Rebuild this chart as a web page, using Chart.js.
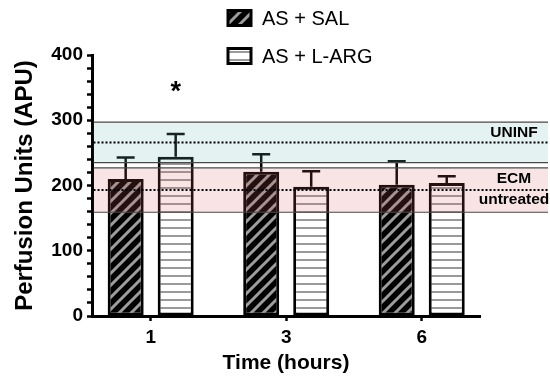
<!DOCTYPE html>
<html>
<head>
<meta charset="utf-8">
<script src="https://cdn.jsdelivr.net/npm/chart.js@4/dist/chart.umd.min.js"></script>
<style>
  body { margin: 0; background: #fff; }
  #wrap { width: 550px; height: 378px; }
</style>
</head>
<body>
<div id="wrap"><canvas id="perfusionChart" width="550" height="378"></canvas></div>
<script>
// values
const timeLabels = ['1', '3', '6'];
const timePos = [1, 2, 3];
const seriesNames = ['AS + SAL', 'AS + L-ARG'];
const salMean = [210, 221, 201];
const salErr = [33, 27, 36];
const largMean = [244, 198, 204];
const largErr = [35, 24, 10];
const bandLabels = [['UNINF'], ['ECM', 'untreated']];
const bandMean = [266, 193];
const bandSd = [31, 34];
const starMarks = [{ dataset: 1, index: 0, value: 351 }];

const FONT = '"Liberation Sans", Arial, Helvetica, sans-serif';
Chart.defaults.font.family = FONT;
Chart.defaults.color = '#000';

const canvas = document.getElementById('perfusionChart');
const ctx = canvas.getContext('2d');

function diagPattern() {
    const s = 12;
    const c = document.createElement('canvas');
    c.width = s; c.height = s;
    const g = c.getContext('2d');
    g.fillStyle = '#000';
    g.fillRect(0, 0, s, s);
    g.strokeStyle = '#9d9d9d';
    g.lineWidth = 3;
    g.beginPath();
    g.moveTo(-2, 2); g.lineTo(2, -2);
    g.moveTo(0, s); g.lineTo(s, 0);
    g.moveTo(s - 2, s + 2); g.lineTo(s + 2, s - 2);
    g.stroke();
    return ctx.createPattern(c, 'repeat');
}

function hLinePattern() {
    const c = document.createElement('canvas');
    c.width = 8; c.height = 8;
    const g = c.getContext('2d');
    g.fillStyle = '#fff';
    g.fillRect(0, 0, 8, 8);
    g.fillStyle = '#9a9a9a';
    g.fillRect(0, 3, 8, 2);
    return ctx.createPattern(c, 'repeat');
}

const salFill = diagPattern();
const largFill = hLinePattern();

const means = [salMean, largMean];
const errs = [salErr, largErr];

// error bars, reference bands, labels and legend
const overlayPlugin = {
    id: 'overlay',
    afterDatasetsDraw(chart) {
        const c = chart.ctx;
        const y = chart.scales.y;
        const area = chart.chartArea;

        // upper error bars
        c.save();
        c.strokeStyle = '#000';
        c.lineWidth = 2.5;
        chart.data.datasets.forEach((ds, i) => {
            chart.getDatasetMeta(i).data.forEach((bar, j) => {
                const top = y.getPixelForValue(means[i][j] + errs[i][j]);
                c.beginPath();
                c.moveTo(bar.x, bar.y);
                c.lineTo(bar.x, top);
                c.moveTo(bar.x - 9, top);
                c.lineTo(bar.x + 9, top);
                c.stroke();
            });
        });
        c.restore();

        // reference bands (mean +/- sd) drawn over the bars
        const bandColors = ['rgba(110, 185, 185, 0.19)', 'rgba(215, 95, 95, 0.17)'];
        const left = area.left + 1.5;
        const right = chart.width - 2;
        bandMean.forEach((m, k) => {
            const yTop = y.getPixelForValue(m + bandSd[k]);
            const yBot = y.getPixelForValue(m - bandSd[k]);
            const yMid = y.getPixelForValue(m);
            c.save();
            c.fillStyle = bandColors[k];
            c.fillRect(left, yTop, right - left, yBot - yTop);
            c.strokeStyle = '#4a4a4a';
            c.lineWidth = 1.2;
            c.beginPath();
            c.moveTo(left, yTop); c.lineTo(right, yTop);
            c.moveTo(left, yBot); c.lineTo(right, yBot);
            c.stroke();
            c.strokeStyle = '#000';
            c.lineWidth = 2;
            c.setLineDash([2, 2]);
            c.beginPath();
            c.moveTo(left, yMid); c.lineTo(right, yMid);
            c.stroke();
            c.setLineDash([]);
            c.fillStyle = '#000';
            c.font = 'bold 15.5px ' + FONT;
            c.textAlign = 'center';
            c.textBaseline = 'middle';
            bandLabels[k].forEach((t, n) => {
                c.fillText(t, 514, yTop + 11 + n * 21);
            });
            c.restore();
        });

        // significance marks
        c.save();
        c.font = 'bold 27px ' + FONT;
        c.textAlign = 'center';
        c.textBaseline = 'alphabetic';
        starMarks.forEach(s => {
            const bar = chart.getDatasetMeta(s.dataset).data[s.index];
            const m = c.measureText('*');
            const cy = y.getPixelForValue(s.value);
            c.fillText('*', bar.x, cy + (m.actualBoundingBoxAscent - m.actualBoundingBoxDescent) / 2);
        });
        c.restore();
    },
    afterDraw(chart) {
        const c = chart.ctx;
        const fills = [salFill, largFill];
        const rows = [18, 56];
        c.save();
        seriesNames.forEach((name, i) => {
            const bx = 228, by = rows[i] - 7.5, bw = 23, bh = 15;
            c.fillStyle = fills[i];
            c.fillRect(bx, by, bw, bh);
            c.strokeStyle = '#000';
            c.lineWidth = 3;
            c.strokeRect(bx, by, bw, bh);
            c.fillStyle = '#000';
            c.font = '20px ' + FONT;
            c.textAlign = 'left';
            c.textBaseline = 'middle';
            c.fillText(name, 262, rows[i] + 1);
        });
        c.restore();
    }
};

new Chart(canvas, {
    type: 'bar',
    data: {
        datasets: [
            {
                label: seriesNames[0],
                data: timePos.map((x, i) => ({ x: x, y: salMean[i] })),
                backgroundColor: salFill,
                borderColor: '#000',
                borderWidth: 3,
                borderSkipped: false
            },
            {
                label: seriesNames[1],
                data: timePos.map((x, i) => ({ x: x, y: largMean[i] })),
                backgroundColor: largFill,
                borderColor: '#000',
                borderWidth: 3,
                borderSkipped: false
            }
        ]
    },
    options: {
        responsive: false,
        animation: false,
        categoryPercentage: 0.738,
        barPercentage: 0.72,
        layout: { padding: { top: 55, right: 70, left: 0, bottom: 0 } },
        plugins: {
            legend: { display: false },
            tooltip: { enabled: false }
        },
        scales: {
            x: {
                type: 'linear',
                offset: false,
                min: 0.567,
                max: 3.43,
                afterBuildTicks: s => { s.ticks = timePos.map(v => ({ value: v })); },
                afterFit: s => { s.height = 62; },
                ticks: {
                    callback: (v, i) => timeLabels[i],
                    font: { size: 19, weight: 'bold' },
                    padding: 5
                },
                grid: { offset: false, drawOnChartArea: false, tickLength: 5, tickWidth: 2.5, tickColor: '#000' },
                border: { color: '#000', width: 3 },
                title: {
                    display: true,
                    text: 'Time (hours)',
                    font: { size: 21, weight: 'bold' },
                    padding: { top: 0, bottom: 2 }
                }
            },
            y: {
                min: 0,
                max: 400,
                afterFit: s => { s.width = 92; },
                ticks: {
                    stepSize: 20,
                    autoSkip: false,
                    callback: v => (v % 100 === 0 ? v : ''),
                    font: { size: 19, weight: 'bold' },
                    padding: 4
                },
                grid: { drawOnChartArea: false, tickLength: 5, tickWidth: 2.5, tickColor: '#000' },
                border: { color: '#000', width: 3 },
                title: {
                    display: true,
                    text: 'Perfusion Units (APU)',
                    font: { size: 24, weight: 'bold' },
                    padding: { top: 11, bottom: 0 }
                }
            }
        }
    },
    plugins: [overlayPlugin]
});
</script>
</body>
</html>
